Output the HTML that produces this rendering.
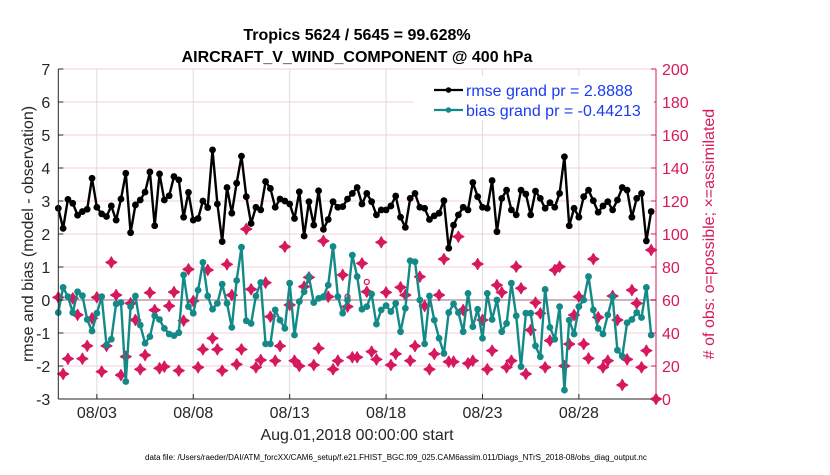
<!DOCTYPE html>
<html><head><meta charset="utf-8"><style>
body{margin:0;background:#fff;width:830px;height:470px;overflow:hidden;font-family:"Liberation Sans",Arial,sans-serif}
</style></head><body>
<svg id="chart" width="830" height="470" xmlns="http://www.w3.org/2000/svg" font-family="Liberation Sans, Arial, sans-serif"></svg>
<script>
const rmse=[2.78,2.17,3.05,2.93,2.57,2.68,2.75,3.69,2.81,2.61,2.53,2.85,2.42,3.06,3.84,2.04,2.88,3.03,3.27,3.88,2.25,3.82,3.03,3.16,3.74,3.64,2.51,3.26,2.42,2.47,3.0,2.8,4.55,2.91,1.77,3.41,2.63,3.54,4.36,3.13,2.32,2.81,
2.73,3.59,3.38,2.81,3.06,3.0,2.91,2.47,3.28,1.94,2.98,2.27,3.31,2.14,2.44,2.98,2.81,2.83,3.06,3.23,3.41,2.91,3.23,2.98,2.58,2.73,2.73,2.85,3.15,2.51,2.2,3.08,3.23,2.81,2.78,2.44,2.55,2.63,3.01,1.57,2.27,2.58,
2.81,2.73,3.56,3.13,2.81,2.78,3.62,2.07,3.08,3.33,2.73,2.58,3.33,3.21,2.58,3.3,3.08,2.78,2.95,2.81,3.23,4.34,2.25,2.78,2.51,3.13,3.33,3.01,2.66,2.85,2.98,2.73,3.03,3.41,3.33,2.51,3.08,3.23,1.79,2.68];
const bias=[-0.38,0.38,0.1,-0.38,0.25,0.13,-0.59,-0.94,-0.4,0.1,-1.36,-1.19,-0.12,-0.08,-2.47,-0.2,0.12,-0.76,-1.31,-1.11,-0.48,-0.59,-0.86,-1.03,-1.08,-0.99,0.76,-0.2,-0.4,0.3,1.14,0.12,-0.28,-0.1,0.48,-0.1,-0.83,0.59,1.6,-0.63,-0.71,0.12,
0.53,-1.33,-1.33,-0.3,-0.61,-0.86,0.51,-1.06,-0.05,0.25,0.71,-0.08,0.05,0.1,0.45,1.62,0.1,-0.4,0,1.36,0.71,-0.28,-0.2,0.18,-0.73,-0.3,-0.17,-0.35,-0.1,-0.96,-0.25,1.19,1.16,0,-1.33,0.12,-0.61,-1.16,-1.62,-0.38,-0.12,-0.38,
-0.96,0.2,-0.81,-0.28,-1.16,0.2,-0.59,0,-0.96,-0.71,0.51,-0.48,-2.02,-0.4,-0.4,-1.39,-1.72,0.32,-0.83,-1.19,-0.2,-2.73,-0.61,-1.03,-0.2,0,0.71,-0.3,-0.86,-1.03,-0.45,0.1,-1.52,-1.7,-0.69,-0.59,-0.38,-0.53,0.38,-1.06];
const nobs=[61.6,15.2,24.4,61,51,24.4,32.2,48.9,61.6,16.6,32.2,82.8,63,14.5,25.7,58,47.9,18,26.6,64.4,53.9,18.6,19.6,56.4,64.8,17.2,47.5,78.6,59.4,19.2,30.1,78.2,36.8,30.1,17.2,81.6,63,21,30.1,103,66.5,19.2,
23.6,70.5,49.9,23.2,32.1,92.3,57,23.2,20,68.1,73.7,20.6,30.7,95.8,62,18,23.2,75.2,56,25.3,25.3,82.2,65,28.7,24,95,64.6,20.6,27.3,67.7,63,23.2,32.1,74.1,56.4,18,27.3,63,84.8,22.6,22.6,98.4,
53.9,21.6,23.2,81.8,47.9,18,29.3,69,64.6,19.2,23.2,80.2,67.1,15.2,41.8,58.4,51.9,19.2,35.4,78.2,80.2,20,33.3,50.9,62,33.3,24.6,84.8,49.5,19.2,23.2,62.4,47.9,8.5,24,66,58,19.2,29.3,90.3,0];
const possibleIdx=[60,64];
const possibleVal=[62,71];
const xTickDays=[2,7,12,17,22,27];
const xTickLabels=["08/03","08/08","08/13","08/18","08/23","08/28"];
const yTicks=[-3,-2,-1,0,1,2,3,4,5,6,7];
const y2Ticks=[0,20,40,60,80,100,120,140,160,180,200];
const dayStep=0.25;

const L=58.3,R=656,T=69,B=399;
const X=d=>L+(d-0)/31*(R-L);
const Y=v=>B-(v+3)/10*(B-T);
const Y2=c=>B-c/200*(B-T);
const svg=document.getElementById('chart');
const NS='http://www.w3.org/2000/svg';
function mk(tag,attrs,parent){const e=document.createElementNS(NS,tag);for(const k in attrs)e.setAttribute(k,attrs[k]);(parent||svg).appendChild(e);return e;}

yTicks.forEach(v=>{const g=mk('line',{x1:L,x2:R,y1:Y(v),y2:Y(v),stroke:'#f2d0de','stroke-width':1});

});
xTickDays.forEach(d=>{const g=mk('line',{x1:X(d),x2:X(d),y1:T,y2:B,stroke:'#dcdcdc','stroke-width':1});

});
const zl=mk('line',{x1:L,x2:R,y1:Y(0),y2:Y(0),stroke:'#c9b6bc','stroke-width':2});



nobs.forEach((c,i)=>{const x=X(i*dayStep),y=Y2(c);
const p=mk('path',{d:`M${x},${y-5.5}L${x+2},${y-2}L${x+5.5},${y}L${x+2},${y+2}L${x},${y+5.5}L${x-2},${y+2}L${x-5.5},${y}L${x-2},${y-2}Z`,fill:'#d6195e',stroke:'#d6195e','stroke-width':1.2,'stroke-linejoin':'round'});

});
possibleIdx.forEach((idx,k)=>{const c=mk('circle',{cx:X(idx*dayStep),cy:Y2(possibleVal[k]),r:2.5,fill:'none',stroke:'#d6195e','stroke-width':1.3});

});

function series(vals,color,name){
 const pts=vals.map((v,i)=>X(i*dayStep).toFixed(1)+','+Y(v).toFixed(1)).join(' ');
 const pl=mk('polyline',{points:pts,fill:'none',stroke:color,'stroke-width':2.4,'stroke-linejoin':'round'});
 
 
 vals.forEach((v,i)=>{const c=mk('circle',{cx:X(i*dayStep),cy:Y(v),r:3.4,fill:color});
 
 });
}
series(bias,'#138a87','bias');
series(rmse,'#000000','rmse');

const la=mk('line',{x1:L,x2:L,y1:T,y2:B,stroke:'#262626','stroke-width':1});


const ba=mk('line',{x1:L,x2:R,y1:B,y2:B,stroke:'#262626','stroke-width':1});


const ra=mk('line',{x1:R,x2:R,y1:T,y2:B,stroke:'#d6195e','stroke-width':1});


yTicks.forEach(v=>{mk('line',{x1:L,x2:L+5,y1:Y(v),y2:Y(v),stroke:'#262626'});
const t=mk('text',{x:L-8,y:Y(v)+6,'text-anchor':'end','font-size':16,fill:'#262626'});t.textContent=v;

});
y2Ticks.forEach(c=>{mk('line',{x1:R-5,x2:R,y1:Y2(c),y2:Y2(c),stroke:'#d6195e'});
const t=mk('text',{x:R+6,y:Y2(c)+6,'font-size':16,fill:'#d6195e'});t.textContent=c;

});
xTickDays.forEach((d,i)=>{mk('line',{x1:X(d),x2:X(d),y1:B,y2:B-5,stroke:'#262626'});
const t=mk('text',{x:X(d),y:B+19,'text-anchor':'middle','font-size':16,fill:'#262626'});t.textContent=xTickLabels[i];

});
</script>
<svg style="position:absolute;left:0;top:0" width="830" height="470" xmlns="http://www.w3.org/2000/svg" font-family="Liberation Sans, Arial, sans-serif">
<text x="357" y="40" text-anchor="middle" font-size="16" font-weight="bold" fill="#000">Tropics 5624 / 5645 = 99.628%</text>
<text x="357" y="62" text-anchor="middle" font-size="16" font-weight="bold" fill="#000">AIRCRAFT_V_WIND_COMPONENT @ 400 hPa</text>
<text transform="translate(33,234) rotate(-90)" text-anchor="middle" font-size="16" fill="#262626">rmse and bias (model - observation)</text>
<text transform="translate(714,234) rotate(-90)" text-anchor="middle" font-size="16" fill="#d6195e"># of obs: o=possible; ×=assimilated</text>
<text x="357" y="440" text-anchor="middle" font-size="16" fill="#262626">Aug.01,2018 00:00:00 start</text>
<text x="145" y="460" font-size="8" fill="#000">data file: /Users/raeder/DAI/ATM_forcXX/CAM6_setup/f.e21.FHIST_BGC.f09_025.CAM6assim.011/Diags_NTrS_2018-08/obs_diag_output.nc</text>
<g>
<rect x="414" y="76" width="240" height="44" fill="#fff"/>
<line x1="434" y1="90" x2="463" y2="90" stroke="#000" stroke-width="2.2"/><circle cx="448.5" cy="90" r="2.8" fill="#000"/>
<text x="466" y="96" font-size="16" fill="#1a3cf0">rmse grand pr = 2.8888</text>
<line x1="434" y1="110" x2="463" y2="110" stroke="#138a87" stroke-width="2.2"/><circle cx="448.5" cy="110" r="2.8" fill="#138a87"/>
<text x="466" y="116" font-size="16" fill="#1a3cf0">bias grand pr = -0.44213</text>
</g>
</svg>
</body></html>
